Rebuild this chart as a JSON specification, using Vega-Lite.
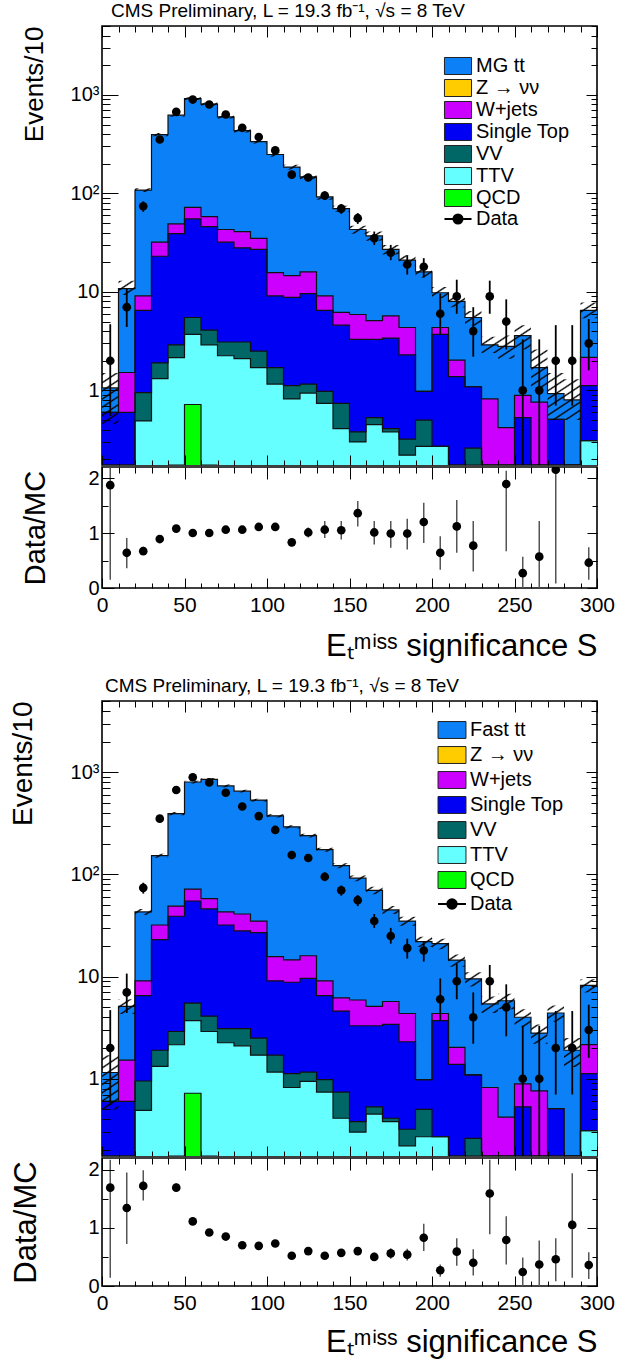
{
"$schema": "https://vega.github.io/schema/vega-lite/v6.json",
"background": "white",
"padding": {"left": 8, "top": 1, "right": 2, "bottom": 2},
"config": {"font": "Liberation Sans", "view": {"stroke": "black", "strokeWidth": 1.6}, "axis": {"labelColor": "black", "titleColor": "black", "titleFontWeight": "normal"}},
"datasets": {
"lower": [
{"p":"W+jets","a":0,"b":10,"v":0.6},{"p":"W+jets","a":10,"b":20,"v":1.52},{"p":"W+jets","a":20,"b":30,"v":9.1},{"p":"W+jets","a":30,"b":40,"v":32},{"p":"W+jets","a":40,"b":50,"v":49},{"p":"W+jets","a":50,"b":60,"v":72},{"p":"W+jets","a":60,"b":70,"v":58},{"p":"W+jets","a":70,"b":80,"v":43},{"p":"W+jets","a":80,"b":90,"v":41},{"p":"W+jets","a":90,"b":100,"v":35},{"p":"W+jets","a":100,"b":110,"v":15.7},{"p":"W+jets","a":110,"b":120,"v":14.6},{"p":"W+jets","a":120,"b":130,"v":16},{"p":"W+jets","a":130,"b":140,"v":9.1},{"p":"W+jets","a":140,"b":150,"v":6.2},{"p":"W+jets","a":150,"b":160,"v":5.9},{"p":"W+jets","a":160,"b":170,"v":5.1},{"p":"W+jets","a":170,"b":180,"v":5.7},{"p":"W+jets","a":180,"b":190,"v":4.35},{"p":"W+jets","a":190,"b":200,"v":0.98},{"p":"W+jets","a":200,"b":210,"v":4.35},{"p":"W+jets","a":210,"b":220,"v":2.03},{"p":"W+jets","a":220,"b":230,"v":1.09},{"p":"W+jets","a":230,"b":240,"v":0.82},{"p":"W+jets","a":240,"b":250,"v":0.42},{"p":"W+jets","a":250,"b":260,"v":0.89},{"p":"W+jets","a":260,"b":270,"v":0.76},{"p":"W+jets","a":270,"b":280,"v":0.51},{"p":"W+jets","a":280,"b":290,"v":0},{"p":"W+jets","a":290,"b":300,"v":2.16},
{"p":"Single Top","a":0,"b":10,"v":0.6},{"p":"Single Top","a":10,"b":20,"v":0.6},{"p":"Single Top","a":20,"b":30,"v":6.5},{"p":"Single Top","a":30,"b":40,"v":23},{"p":"Single Top","a":40,"b":50,"v":39},{"p":"Single Top","a":50,"b":60,"v":55},{"p":"Single Top","a":60,"b":70,"v":46},{"p":"Single Top","a":70,"b":80,"v":32},{"p":"Single Top","a":80,"b":90,"v":28},{"p":"Single Top","a":90,"b":100,"v":27},{"p":"Single Top","a":100,"b":110,"v":9.1},{"p":"Single Top","a":110,"b":120,"v":8.8},{"p":"Single Top","a":120,"b":130,"v":9.6},{"p":"Single Top","a":130,"b":140,"v":6.5},{"p":"Single Top","a":140,"b":150,"v":4.6},{"p":"Single Top","a":150,"b":160,"v":3.3},{"p":"Single Top","a":160,"b":170,"v":3.3},{"p":"Single Top","a":170,"b":180,"v":3.4},{"p":"Single Top","a":180,"b":190,"v":2.3},{"p":"Single Top","a":190,"b":200,"v":0.98},{"p":"Single Top","a":200,"b":210,"v":3.7},{"p":"Single Top","a":210,"b":220,"v":1.38},{"p":"Single Top","a":220,"b":230,"v":1.09},{"p":"Single Top","a":230,"b":240,"v":0},{"p":"Single Top","a":240,"b":250,"v":0},{"p":"Single Top","a":250,"b":260,"v":0.53},{"p":"Single Top","a":260,"b":270,"v":0},{"p":"Single Top","a":270,"b":280,"v":0.51},{"p":"Single Top","a":280,"b":290,"v":0},{"p":"Single Top","a":290,"b":300,"v":1.12},
{"p":"VV","a":0,"b":10,"v":0},{"p":"VV","a":10,"b":20,"v":0},{"p":"VV","a":20,"b":30,"v":0.95},{"p":"VV","a":30,"b":40,"v":1.9},{"p":"VV","a":40,"b":50,"v":2.9},{"p":"VV","a":50,"b":60,"v":5.5},{"p":"VV","a":60,"b":70,"v":4.1},{"p":"VV","a":70,"b":80,"v":3.1},{"p":"VV","a":80,"b":90,"v":3.1},{"p":"VV","a":90,"b":100,"v":2.5},{"p":"VV","a":100,"b":110,"v":1.7},{"p":"VV","a":110,"b":120,"v":1.12},{"p":"VV","a":120,"b":130,"v":1.16},{"p":"VV","a":130,"b":140,"v":0.98},{"p":"VV","a":140,"b":150,"v":0.74},{"p":"VV","a":150,"b":160,"v":0.38},{"p":"VV","a":160,"b":170,"v":0.53},{"p":"VV","a":170,"b":180,"v":0.41},{"p":"VV","a":180,"b":190,"v":0.32},{"p":"VV","a":190,"b":200,"v":0.5},{"p":"VV","a":200,"b":210,"v":0.27},{"p":"VV","a":210,"b":220,"v":0},{"p":"VV","a":220,"b":230,"v":0.26},{"p":"VV","a":230,"b":240,"v":0},{"p":"VV","a":240,"b":250,"v":0},{"p":"VV","a":250,"b":260,"v":0},{"p":"VV","a":260,"b":270,"v":0},{"p":"VV","a":270,"b":280,"v":0},{"p":"VV","a":280,"b":290,"v":0},{"p":"VV","a":290,"b":300,"v":0.31},
{"p":"TTV","a":0,"b":10,"v":0},{"p":"TTV","a":10,"b":20,"v":0},{"p":"TTV","a":20,"b":30,"v":0.49},{"p":"TTV","a":30,"b":40,"v":1.32},{"p":"TTV","a":40,"b":50,"v":2.15},{"p":"TTV","a":50,"b":60,"v":3.7},{"p":"TTV","a":60,"b":70,"v":2.9},{"p":"TTV","a":70,"b":80,"v":2.25},{"p":"TTV","a":80,"b":90,"v":2.1},{"p":"TTV","a":90,"b":100,"v":1.7},{"p":"TTV","a":100,"b":110,"v":1.16},{"p":"TTV","a":110,"b":120,"v":0.82},{"p":"TTV","a":120,"b":130,"v":0.94},{"p":"TTV","a":130,"b":140,"v":0.74},{"p":"TTV","a":140,"b":150,"v":0.41},{"p":"TTV","a":150,"b":160,"v":0.3},{"p":"TTV","a":160,"b":170,"v":0.45},{"p":"TTV","a":170,"b":180,"v":0.38},{"p":"TTV","a":180,"b":190,"v":0.22},{"p":"TTV","a":190,"b":200,"v":0.27},{"p":"TTV","a":200,"b":210,"v":0.27},{"p":"TTV","a":210,"b":220,"v":0},{"p":"TTV","a":220,"b":230,"v":0},{"p":"TTV","a":230,"b":240,"v":0},{"p":"TTV","a":240,"b":250,"v":0},{"p":"TTV","a":250,"b":260,"v":0},{"p":"TTV","a":260,"b":270,"v":0},{"p":"TTV","a":270,"b":280,"v":0},{"p":"TTV","a":280,"b":290,"v":0},{"p":"TTV","a":290,"b":300,"v":0.31},
{"p":"QCD","a":40,"b":50,"v":0},{"p":"QCD","a":50,"b":60,"v":0.72},{"p":"QCD","a":60,"b":70,"v":0}
],
"ttA": [
{"a":0,"b":10,"v":1.06},{"a":10,"b":20,"v":10.8},{"a":20,"b":30,"v":108},{"a":30,"b":40,"v":395},{"a":40,"b":50,"v":622},{"a":50,"b":60,"v":915},{"a":60,"b":70,"v":805},{"a":70,"b":80,"v":597},{"a":80,"b":90,"v":433},{"a":90,"b":100,"v":335},{"a":100,"b":110,"v":248},{"a":110,"b":120,"v":185},{"a":120,"b":130,"v":147},{"a":130,"b":140,"v":92},{"a":140,"b":150,"v":70},{"a":150,"b":160,"v":43},{"a":160,"b":170,"v":37},{"a":170,"b":180,"v":27},{"a":180,"b":190,"v":21},{"a":190,"b":200,"v":16},{"a":200,"b":210,"v":9.8},{"a":210,"b":220,"v":8},{"a":220,"b":230,"v":5.5},{"a":230,"b":240,"v":2.9},{"a":240,"b":250,"v":2.8},{"a":250,"b":260,"v":3.6},{"a":260,"b":270,"v":1.7},{"a":270,"b":280,"v":0.93},{"a":280,"b":290,"v":0.8},{"a":290,"b":300,"v":6.5}
],
"bandA": [
{"a":0,"b":10,"lo":0.46,"hi":1.5},{"a":10,"b":20,"lo":9.3,"hi":13},{"a":20,"b":30,"lo":103,"hi":113},{"a":30,"b":40,"lo":380,"hi":410},{"a":40,"b":50,"lo":600,"hi":645},{"a":50,"b":60,"lo":885,"hi":945},{"a":60,"b":70,"lo":775,"hi":835},{"a":70,"b":80,"lo":575,"hi":620},{"a":80,"b":90,"lo":415,"hi":450},{"a":90,"b":100,"lo":320,"hi":350},{"a":100,"b":110,"lo":236,"hi":260},{"a":110,"b":120,"lo":175,"hi":195},{"a":120,"b":130,"lo":139,"hi":155},{"a":130,"b":140,"lo":86,"hi":98},{"a":140,"b":150,"lo":65,"hi":75},{"a":150,"b":160,"lo":39,"hi":47},{"a":160,"b":170,"lo":33,"hi":41},{"a":170,"b":180,"lo":24,"hi":30},{"a":180,"b":190,"lo":18.5,"hi":23.5},{"a":190,"b":200,"lo":14,"hi":18},{"a":200,"b":210,"lo":8.6,"hi":11.2},{"a":210,"b":220,"lo":7,"hi":9.1},{"a":220,"b":230,"lo":4.5,"hi":6.4},{"a":230,"b":240,"lo":2.4,"hi":3.5},{"a":240,"b":250,"lo":2.1,"hi":3.6},{"a":250,"b":260,"lo":2.6,"hi":4.6},{"a":260,"b":270,"lo":1.0,"hi":2.6},{"a":270,"b":280,"lo":0.5,"hi":1.5},{"a":280,"b":290,"lo":0.5,"hi":1.3},{"a":290,"b":300,"lo":5.4,"hi":7.8}
],
"ttB": [
{"a":0,"b":10,"v":1.15},{"a":10,"b":20,"v":5.1},{"a":20,"b":30,"v":43},{"a":30,"b":40,"v":153},{"a":40,"b":50,"v":395},{"a":50,"b":60,"v":805},{"a":60,"b":70,"v":855},{"a":70,"b":80,"v":737},{"a":80,"b":90,"v":655},{"a":90,"b":100,"v":535},{"a":100,"b":110,"v":375},{"a":110,"b":120,"v":293},{"a":120,"b":130,"v":240},{"a":130,"b":140,"v":175},{"a":140,"b":150,"v":122},{"a":150,"b":160,"v":92},{"a":160,"b":170,"v":70},{"a":170,"b":180,"v":45},{"a":180,"b":190,"v":35},{"a":190,"b":200,"v":22},{"a":200,"b":210,"v":21},{"a":210,"b":220,"v":14.5},{"a":220,"b":230,"v":9.5},{"a":230,"b":240,"v":5.4},{"a":240,"b":250,"v":5.8},{"a":250,"b":260,"v":4.0},{"a":260,"b":270,"v":2.8},{"a":270,"b":280,"v":4.4},{"a":280,"b":290,"v":1.9},{"a":290,"b":300,"v":8.2}
],
"bandB": [
{"a":0,"b":10,"lo":0.5,"hi":1.7},{"a":10,"b":20,"lo":4.3,"hi":6.0},{"a":20,"b":30,"lo":40,"hi":46},{"a":30,"b":40,"lo":146,"hi":160},{"a":40,"b":50,"lo":380,"hi":410},{"a":50,"b":60,"lo":780,"hi":830},{"a":60,"b":70,"lo":830,"hi":880},{"a":70,"b":80,"lo":715,"hi":760},{"a":80,"b":90,"lo":635,"hi":675},{"a":90,"b":100,"lo":518,"hi":552},{"a":100,"b":110,"lo":362,"hi":388},{"a":110,"b":120,"lo":282,"hi":304},{"a":120,"b":130,"lo":230,"hi":250},{"a":130,"b":140,"lo":167,"hi":183},{"a":140,"b":150,"lo":115,"hi":129},{"a":150,"b":160,"lo":86,"hi":98},{"a":160,"b":170,"lo":64,"hi":76},{"a":170,"b":180,"lo":41,"hi":49},{"a":180,"b":190,"lo":31.5,"hi":38.5},{"a":190,"b":200,"lo":19.5,"hi":24.5},{"a":200,"b":210,"lo":18.5,"hi":23.5},{"a":210,"b":220,"lo":12.5,"hi":16.5},{"a":220,"b":230,"lo":8,"hi":11},{"a":230,"b":240,"lo":4.4,"hi":6.4},{"a":240,"b":250,"lo":4.8,"hi":6.8},{"a":250,"b":260,"lo":3.2,"hi":4.8},{"a":260,"b":270,"lo":2.2,"hi":3.4},{"a":270,"b":280,"lo":3.6,"hi":5.2},{"a":280,"b":290,"lo":1.3,"hi":2.5},{"a":290,"b":300,"lo":7.0,"hi":9.4}
],
"obs": [
{"c":5,"n":2,"lo":0.55,"hi":4.7},{"c":15,"n":7,"lo":4.4,"hi":10.7},{"c":25,"n":74,"lo":65,"hi":83},{"c":35,"n":352,"lo":333,"hi":371},{"c":45,"n":672,"lo":646,"hi":698},{"c":55,"n":896,"lo":866,"hi":926},{"c":65,"n":798,"lo":770,"hi":826},{"c":75,"n":632,"lo":607,"hi":657},{"c":85,"n":463,"lo":442,"hi":484},{"c":95,"n":373,"lo":354,"hi":392},{"c":105,"n":273,"lo":257,"hi":289},{"c":115,"n":155,"lo":143,"hi":167},{"c":125,"n":145,"lo":133,"hi":157},{"c":135,"n":95,"lo":86,"hi":105},{"c":145,"n":70,"lo":62,"hi":78},{"c":155,"n":56,"lo":49,"hi":63},{"c":165,"n":35,"lo":30,"hi":41},{"c":175,"n":25,"lo":21,"hi":30},{"c":185,"n":19,"lo":15,"hi":23.5},{"c":195,"n":18,"lo":14,"hi":22},{"c":205,"n":6,"lo":3.7,"hi":9.6},{"c":215,"n":9,"lo":6,"hi":13.3},{"c":225,"n":4,"lo":2.2,"hi":7},{"c":235,"n":9,"lo":6,"hi":13},{"c":245,"n":5,"lo":2.6,"hi":8.4},{"c":255,"n":1,"lo":0.17,"hi":3.3},{"c":265,"n":1,"lo":0.17,"hi":3.3},{"c":275,"n":2,"lo":0.7,"hi":4.6},{"c":285,"n":2,"lo":0.7,"hi":4.6},{"c":295,"n":3,"lo":1.6,"hi":5.3}
],
"ratioA": [
{"c":5,"r":1.87,"lo":0.15,"hi":2.19},{"c":15,"r":0.64,"lo":0.36,"hi":0.91},{"c":25,"r":0.67,"lo":0.6,"hi":0.75},{"c":35,"r":0.89,"lo":0.85,"hi":0.93},{"c":45,"r":1.08,"lo":1.04,"hi":1.12},{"c":55,"r":1.0,"lo":0.97,"hi":1.03},{"c":65,"r":1.0,"lo":0.97,"hi":1.03},{"c":75,"r":1.06,"lo":1.02,"hi":1.1},{"c":85,"r":1.06,"lo":1.01,"hi":1.11},{"c":95,"r":1.11,"lo":1.05,"hi":1.17},{"c":105,"r":1.11,"lo":1.04,"hi":1.18},{"c":115,"r":0.83,"lo":0.76,"hi":0.9},{"c":125,"r":1.01,"lo":0.92,"hi":1.1},{"c":135,"r":1.06,"lo":0.91,"hi":1.22},{"c":145,"r":1.05,"lo":0.88,"hi":1.22},{"c":155,"r":1.36,"lo":1.12,"hi":1.58},{"c":165,"r":1.01,"lo":0.79,"hi":1.22},{"c":175,"r":0.99,"lo":0.73,"hi":1.22},{"c":185,"r":0.99,"lo":0.7,"hi":1.26},{"c":195,"r":1.2,"lo":0.82,"hi":1.55},{"c":205,"r":0.64,"lo":0.33,"hi":0.94},{"c":215,"r":1.12,"lo":0.64,"hi":1.6},{"c":225,"r":0.77,"lo":0.3,"hi":1.22},{"c":245,"r":1.89,"lo":0.67,"hi":2.13},{"c":255,"r":0.27,"lo":0,"hi":0.57},{"c":265,"r":0.57,"lo":0,"hi":1.22},{"c":275,"r":2.15,"lo":0.08,"hi":2.3},{"c":295,"r":0.46,"lo":0.15,"hi":0.74}
],
"ratioB": [
{"c":5,"r":1.69,"lo":0.14,"hi":2.17},{"c":15,"r":1.34,"lo":0.72,"hi":1.95},{"c":25,"r":1.72,"lo":1.47,"hi":1.99},{"c":45,"r":1.69,"lo":1.62,"hi":1.76},{"c":55,"r":1.11,"lo":1.07,"hi":1.15},{"c":65,"r":0.92,"lo":0.89,"hi":0.95},{"c":75,"r":0.85,"lo":0.82,"hi":0.88},{"c":85,"r":0.7,"lo":0.67,"hi":0.73},{"c":95,"r":0.69,"lo":0.66,"hi":0.72},{"c":105,"r":0.73,"lo":0.69,"hi":0.77},{"c":115,"r":0.52,"lo":0.48,"hi":0.56},{"c":125,"r":0.6,"lo":0.55,"hi":0.65},{"c":135,"r":0.52,"lo":0.47,"hi":0.57},{"c":145,"r":0.57,"lo":0.51,"hi":0.63},{"c":155,"r":0.6,"lo":0.53,"hi":0.67},{"c":165,"r":0.5,"lo":0.43,"hi":0.57},{"c":175,"r":0.56,"lo":0.47,"hi":0.65},{"c":185,"r":0.54,"lo":0.44,"hi":0.64},{"c":195,"r":0.83,"lo":0.6,"hi":1.07},{"c":205,"r":0.27,"lo":0.16,"hi":0.37},{"c":215,"r":0.59,"lo":0.35,"hi":0.82},{"c":225,"r":0.4,"lo":0.18,"hi":0.63},{"c":235,"r":1.59,"lo":0.89,"hi":2.17},{"c":245,"r":0.79,"lo":0.37,"hi":1.2},{"c":255,"r":0.24,"lo":0,"hi":0.49},{"c":265,"r":0.37,"lo":0,"hi":0.78},{"c":275,"r":0.46,"lo":0.08,"hi":0.82},{"c":285,"r":1.05,"lo":0.14,"hi":1.94},{"c":295,"r":0.36,"lo":0.12,"hi":0.58}
]
},
"resolve": {"scale": {"color": "independent"}, "legend": {"color": "independent"}},
"spacing": 14,
"vconcat": [
{
"spacing": 0,
"resolve": {"scale": {"x": "independent", "y": "independent"}},
"vconcat": [
{
"width": 495, "height": 439,
"title": {"text": "CMS Preliminary, L = 19.3 fb⁻¹, √s = 8 TeV", "anchor": "start", "frame": "group", "fontSize": 19, "fontWeight": "normal", "offset": 4, "dx": 9, "color": "black"},
"resolve": {"axis": {"x": "independent", "y": "independent"}},
"layer": [
{"data": {"name": "ttA"}, "transform": [{"fold": ["a","b"], "as": ["e","xe"]}],
 "mark": {"type": "area", "opacity": 1, "clip": true},
 "encoding": {
  "x": {"field": "xe", "type": "quantitative", "scale": {"domain": [0,300], "nice": false, "zero": false},
        "axis": {"orient": "bottom", "values": [0,10,20,30,40,50,60,70,80,90,100,110,120,130,140,150,160,170,180,190,200,210,220,230,240,250,260,270,280,290,300], "labels": false, "ticks": false, "domain": false, "title": null, "grid": true, "gridColor": "black", "gridOpacity": 1, "gridWidth": 1, "gridDash": {"condition": {"test": "datum.value % 50 === 0", "value": [11, 3000]}, "value": [6, 3000]}, "zindex": 1}},
  "y": {"field": "v", "type": "quantitative", "stack": null, "scale": {"type": "log", "domain": [0.175, 5000], "clamp": true, "nice": false},
        "axis": {"orient": "left", "values": [0.2,0.3,0.4,0.5,0.6,0.7,0.8,0.9,1,2,3,4,5,6,7,8,9,10,20,30,40,50,60,70,80,90,100,200,300,400,500,600,700,800,900,1000,2000,3000,4000,5000], "labelExpr": "datum.value === 1 ? '1' : datum.value === 10 ? '10' : datum.value === 100 ? '10²' : datum.value === 1000 ? '10³' : ''", "labelFontSize": {"condition": {"test": "datum.value === 1 || datum.value === 10 || datum.value === 100 || datum.value === 1000", "value": 20}, "value": 1}, "labelPadding": 3, "labelOverlap": false, "labelFlush": false, "minExtent": 30, "maxExtent": 30, "ticks": false, "domain": false, "grid": true, "gridColor": "black", "gridOpacity": 1, "gridWidth": 1, "gridDash": {"condition": {"test": "abs(log(datum.value)/LN10 - round(log(datum.value)/LN10)) < 0.001", "value": [16, 3000]}, "value": [8, 3000]}, "title": "Events/10", "titleFontSize": 26, "titleAnchor": "end", "titlePadding": 25, "zindex": 1}},
  "y2": {"datum": 0.175},
  "order": [{"field": "xe", "type": "quantitative"}, {"field": "e", "type": "nominal", "sort": "descending"}],
  "color": {"datum": "MG tt", "type": "nominal",
    "scale": {"domain": ["MG tt", "Z → νν", "W+jets", "Single Top", "VV", "TTV", "QCD", "Data"], "range": ["#0c80f6", "#ffcc00", "#cc00ff", "#0000f5", "#006666", "#66ffff", "#00ff00", "black"]},
    "legend": {"orient": "none", "legendX": 346, "legendY": 30, "title": null, "symbolType": "M-1.29,-0.81L1.29,-0.81L1.29,0.81L-1.29,0.81Z", "symbolSize": 441, "symbolStrokeColor": "#222", "symbolStrokeWidth": 1, "symbolOpacity": 1, "labelFontSize": 20, "labelColor": "black", "labelOffset": 8, "rowPadding": 0, "labelLimit": 300,
      "encode": {"symbols": {"update": {"shape": {"signal": "datum.value === 'Data' ? 'M-1.29,0L1.29,0M-0.43,0A0.43,0.43,0,1,0,0.43,0A0.43,0.43,0,1,0,-0.43,0Z' : 'M-1.29,-0.81L1.29,-0.81L1.29,0.81L-1.29,0.81Z'"}, "stroke": {"signal": "datum.value === 'Data' ? 'black' : '#222'"}, "strokeWidth": {"signal": "datum.value === 'Data' ? 2 : 1"}}}}}}
 }},
{"data": {"name": "lower"}, "transform": [{"filter": "datum.p === 'W+jets'"}, {"fold": ["a","b"], "as": ["e","xe"]}],
 "mark": {"type": "area", "opacity": 1, "clip": true},
 "encoding": {
  "x": {"field": "xe", "type": "quantitative", "axis": {"orient": "top", "values": [0,10,20,30,40,50,60,70,80,90,100,110,120,130,140,150,160,170,180,190,200,210,220,230,240,250,260,270,280,290,300], "labels": false, "ticks": false, "domain": false, "title": null, "grid": true, "gridColor": "black", "gridOpacity": 1, "gridWidth": 1, "gridDash": {"condition": {"test": "datum.value % 50 === 0", "value": [10, 3000]}, "value": [5, 3000]}, "zindex": 1}},
  "y": {"field": "v", "type": "quantitative", "stack": null, "axis": {"orient": "right", "values": [0.2,0.3,0.4,0.5,0.6,0.7,0.8,0.9,1,2,3,4,5,6,7,8,9,10,20,30,40,50,60,70,80,90,100,200,300,400,500,600,700,800,900,1000,2000,3000,4000,5000], "labels": false, "ticks": false, "domain": false, "title": null, "grid": true, "gridColor": "black", "gridOpacity": 1, "gridWidth": 1, "gridDash": {"condition": {"test": "abs(log(datum.value)/LN10 - round(log(datum.value)/LN10)) < 0.001", "value": [11, 3000]}, "value": [6, 3000]}, "zindex": 1}},
  "y2": {"datum": 0.175},
  "order": [{"field": "xe", "type": "quantitative"}, {"field": "e", "type": "nominal", "sort": "descending"}],
  "color": {"datum": "W+jets", "type": "nominal"}
 }},
{"data": {"name": "lower"}, "transform": [{"filter": "datum.p === 'Single Top'"}, {"fold": ["a","b"], "as": ["e","xe"]}],
 "mark": {"type": "area", "opacity": 1, "clip": true},
 "encoding": {"x": {"field": "xe", "type": "quantitative", "axis": null}, "y": {"field": "v", "type": "quantitative", "stack": null, "axis": null}, "y2": {"datum": 0.175},
  "order": [{"field": "xe", "type": "quantitative"}, {"field": "e", "type": "nominal", "sort": "descending"}], "color": {"datum": "Single Top", "type": "nominal"}}},
{"data": {"name": "lower"}, "transform": [{"filter": "datum.p === 'VV'"}, {"fold": ["a","b"], "as": ["e","xe"]}],
 "mark": {"type": "area", "opacity": 1, "clip": true},
 "encoding": {"x": {"field": "xe", "type": "quantitative", "axis": null}, "y": {"field": "v", "type": "quantitative", "stack": null, "axis": null}, "y2": {"datum": 0.175},
  "order": [{"field": "xe", "type": "quantitative"}, {"field": "e", "type": "nominal", "sort": "descending"}], "color": {"datum": "VV", "type": "nominal"}}},
{"data": {"name": "lower"}, "transform": [{"filter": "datum.p === 'TTV'"}, {"fold": ["a","b"], "as": ["e","xe"]}],
 "mark": {"type": "area", "opacity": 1, "clip": true},
 "encoding": {"x": {"field": "xe", "type": "quantitative", "axis": null}, "y": {"field": "v", "type": "quantitative", "stack": null, "axis": null}, "y2": {"datum": 0.175},
  "order": [{"field": "xe", "type": "quantitative"}, {"field": "e", "type": "nominal", "sort": "descending"}], "color": {"datum": "TTV", "type": "nominal"}}},
{"data": {"name": "lower"}, "transform": [{"filter": "datum.p === 'QCD'"}, {"fold": ["a","b"], "as": ["e","xe"]}],
 "mark": {"type": "area", "opacity": 1, "clip": true},
 "encoding": {"x": {"field": "xe", "type": "quantitative", "axis": null}, "y": {"field": "v", "type": "quantitative", "stack": null, "axis": null}, "y2": {"datum": 0.175},
  "order": [{"field": "xe", "type": "quantitative"}, {"field": "e", "type": "nominal", "sort": "descending"}], "color": {"datum": "QCD", "type": "nominal"}}},
{"data": {"name": "lower"}, "transform": [{"fold": ["a","b"], "as": ["e","xe"]}],
 "mark": {"type": "line", "color": "#111", "strokeWidth": 1.2, "clip": true},
 "encoding": {"x": {"field": "xe", "type": "quantitative", "axis": null}, "y": {"field": "v", "type": "quantitative", "axis": null}, "detail": {"field": "p"},
  "order": [{"field": "xe", "type": "quantitative"}, {"field": "e", "type": "nominal", "sort": "descending"}]}},
{"data": {"name": "ttA"}, "transform": [{"fold": ["a","b"], "as": ["e","xe"]}],
 "mark": {"type": "line", "color": "#111", "strokeWidth": 1.2, "clip": true},
 "encoding": {"x": {"field": "xe", "type": "quantitative", "axis": null}, "y": {"field": "v", "type": "quantitative", "axis": null},
  "order": [{"field": "xe", "type": "quantitative"}, {"field": "e", "type": "nominal", "sort": "descending"}]}},
{"data": {"name": "bandA"}, "transform": [{"fold": ["a","b"], "as": ["e","xe"]}],
 "mark": {"type": "area", "opacity": 1, "strokeWidth": 0, "clip": true, "fill": {"gradient": "linear", "x1": 0, "y1": 0, "x2": 1, "y2": 1, "stops": [
{"offset":0,"color":"black"},{"offset":0.0025,"color":"transparent"},
{"offset":0.01,"color":"transparent"},{"offset":0.0125,"color":"black"},{"offset":0.015,"color":"transparent"},
{"offset":0.0225,"color":"transparent"},{"offset":0.025,"color":"black"},{"offset":0.0275,"color":"transparent"},
{"offset":0.035,"color":"transparent"},{"offset":0.0375,"color":"black"},{"offset":0.04,"color":"transparent"},
{"offset":0.0475,"color":"transparent"},{"offset":0.05,"color":"black"},{"offset":0.0525,"color":"transparent"},
{"offset":0.06,"color":"transparent"},{"offset":0.0625,"color":"black"},{"offset":0.065,"color":"transparent"},
{"offset":0.0725,"color":"transparent"},{"offset":0.075,"color":"black"},{"offset":0.0775,"color":"transparent"},
{"offset":0.085,"color":"transparent"},{"offset":0.0875,"color":"black"},{"offset":0.09,"color":"transparent"},
{"offset":0.0975,"color":"transparent"},{"offset":0.1,"color":"black"},{"offset":0.1025,"color":"transparent"},
{"offset":0.11,"color":"transparent"},{"offset":0.1125,"color":"black"},{"offset":0.115,"color":"transparent"},
{"offset":0.1225,"color":"transparent"},{"offset":0.125,"color":"black"},{"offset":0.1275,"color":"transparent"},
{"offset":0.135,"color":"transparent"},{"offset":0.1375,"color":"black"},{"offset":0.14,"color":"transparent"},
{"offset":0.1475,"color":"transparent"},{"offset":0.15,"color":"black"},{"offset":0.1525,"color":"transparent"},
{"offset":0.16,"color":"transparent"},{"offset":0.1625,"color":"black"},{"offset":0.165,"color":"transparent"},
{"offset":0.1725,"color":"transparent"},{"offset":0.175,"color":"black"},{"offset":0.1775,"color":"transparent"},
{"offset":0.185,"color":"transparent"},{"offset":0.1875,"color":"black"},{"offset":0.19,"color":"transparent"},
{"offset":0.1975,"color":"transparent"},{"offset":0.2,"color":"black"},{"offset":0.2025,"color":"transparent"},
{"offset":0.21,"color":"transparent"},{"offset":0.2125,"color":"black"},{"offset":0.215,"color":"transparent"},
{"offset":0.2225,"color":"transparent"},{"offset":0.225,"color":"black"},{"offset":0.2275,"color":"transparent"},
{"offset":0.235,"color":"transparent"},{"offset":0.2375,"color":"black"},{"offset":0.24,"color":"transparent"},
{"offset":0.2475,"color":"transparent"},{"offset":0.25,"color":"black"},{"offset":0.2525,"color":"transparent"},
{"offset":0.26,"color":"transparent"},{"offset":0.2625,"color":"black"},{"offset":0.265,"color":"transparent"},
{"offset":0.2725,"color":"transparent"},{"offset":0.275,"color":"black"},{"offset":0.2775,"color":"transparent"},
{"offset":0.285,"color":"transparent"},{"offset":0.2875,"color":"black"},{"offset":0.29,"color":"transparent"},
{"offset":0.2975,"color":"transparent"},{"offset":0.3,"color":"black"},{"offset":0.3025,"color":"transparent"},
{"offset":0.31,"color":"transparent"},{"offset":0.3125,"color":"black"},{"offset":0.315,"color":"transparent"},
{"offset":0.3225,"color":"transparent"},{"offset":0.325,"color":"black"},{"offset":0.3275,"color":"transparent"},
{"offset":0.335,"color":"transparent"},{"offset":0.3375,"color":"black"},{"offset":0.34,"color":"transparent"},
{"offset":0.3475,"color":"transparent"},{"offset":0.35,"color":"black"},{"offset":0.3525,"color":"transparent"},
{"offset":0.36,"color":"transparent"},{"offset":0.3625,"color":"black"},{"offset":0.365,"color":"transparent"},
{"offset":0.3725,"color":"transparent"},{"offset":0.375,"color":"black"},{"offset":0.3775,"color":"transparent"},
{"offset":0.385,"color":"transparent"},{"offset":0.3875,"color":"black"},{"offset":0.39,"color":"transparent"},
{"offset":0.3975,"color":"transparent"},{"offset":0.4,"color":"black"},{"offset":0.4025,"color":"transparent"},
{"offset":0.41,"color":"transparent"},{"offset":0.4125,"color":"black"},{"offset":0.415,"color":"transparent"},
{"offset":0.4225,"color":"transparent"},{"offset":0.425,"color":"black"},{"offset":0.4275,"color":"transparent"},
{"offset":0.435,"color":"transparent"},{"offset":0.4375,"color":"black"},{"offset":0.44,"color":"transparent"},
{"offset":0.4475,"color":"transparent"},{"offset":0.45,"color":"black"},{"offset":0.4525,"color":"transparent"},
{"offset":0.46,"color":"transparent"},{"offset":0.4625,"color":"black"},{"offset":0.465,"color":"transparent"},
{"offset":0.4725,"color":"transparent"},{"offset":0.475,"color":"black"},{"offset":0.4775,"color":"transparent"},
{"offset":0.485,"color":"transparent"},{"offset":0.4875,"color":"black"},{"offset":0.49,"color":"transparent"},
{"offset":0.4975,"color":"transparent"},{"offset":0.5,"color":"black"},{"offset":0.5025,"color":"transparent"},
{"offset":0.51,"color":"transparent"},{"offset":0.5125,"color":"black"},{"offset":0.515,"color":"transparent"},
{"offset":0.5225,"color":"transparent"},{"offset":0.525,"color":"black"},{"offset":0.5275,"color":"transparent"},
{"offset":0.535,"color":"transparent"},{"offset":0.5375,"color":"black"},{"offset":0.54,"color":"transparent"},
{"offset":0.5475,"color":"transparent"},{"offset":0.55,"color":"black"},{"offset":0.5525,"color":"transparent"},
{"offset":0.56,"color":"transparent"},{"offset":0.5625,"color":"black"},{"offset":0.565,"color":"transparent"},
{"offset":0.5725,"color":"transparent"},{"offset":0.575,"color":"black"},{"offset":0.5775,"color":"transparent"},
{"offset":0.585,"color":"transparent"},{"offset":0.5875,"color":"black"},{"offset":0.59,"color":"transparent"},
{"offset":0.5975,"color":"transparent"},{"offset":0.6,"color":"black"},{"offset":0.6025,"color":"transparent"},
{"offset":0.61,"color":"transparent"},{"offset":0.6125,"color":"black"},{"offset":0.615,"color":"transparent"},
{"offset":0.6225,"color":"transparent"},{"offset":0.625,"color":"black"},{"offset":0.6275,"color":"transparent"},
{"offset":0.635,"color":"transparent"},{"offset":0.6375,"color":"black"},{"offset":0.64,"color":"transparent"},
{"offset":0.6475,"color":"transparent"},{"offset":0.65,"color":"black"},{"offset":0.6525,"color":"transparent"},
{"offset":0.66,"color":"transparent"},{"offset":0.6625,"color":"black"},{"offset":0.665,"color":"transparent"},
{"offset":0.6725,"color":"transparent"},{"offset":0.675,"color":"black"},{"offset":0.6775,"color":"transparent"},
{"offset":0.685,"color":"transparent"},{"offset":0.6875,"color":"black"},{"offset":0.69,"color":"transparent"},
{"offset":0.6975,"color":"transparent"},{"offset":0.7,"color":"black"},{"offset":0.7025,"color":"transparent"},
{"offset":0.71,"color":"transparent"},{"offset":0.7125,"color":"black"},{"offset":0.715,"color":"transparent"},
{"offset":0.7225,"color":"transparent"},{"offset":0.725,"color":"black"},{"offset":0.7275,"color":"transparent"},
{"offset":0.735,"color":"transparent"},{"offset":0.7375,"color":"black"},{"offset":0.74,"color":"transparent"},
{"offset":0.7475,"color":"transparent"},{"offset":0.75,"color":"black"},{"offset":0.7525,"color":"transparent"},
{"offset":0.76,"color":"transparent"},{"offset":0.7625,"color":"black"},{"offset":0.765,"color":"transparent"},
{"offset":0.7725,"color":"transparent"},{"offset":0.775,"color":"black"},{"offset":0.7775,"color":"transparent"},
{"offset":0.785,"color":"transparent"},{"offset":0.7875,"color":"black"},{"offset":0.79,"color":"transparent"},
{"offset":0.7975,"color":"transparent"},{"offset":0.8,"color":"black"},{"offset":0.8025,"color":"transparent"},
{"offset":0.81,"color":"transparent"},{"offset":0.8125,"color":"black"},{"offset":0.815,"color":"transparent"},
{"offset":0.8225,"color":"transparent"},{"offset":0.825,"color":"black"},{"offset":0.8275,"color":"transparent"},
{"offset":0.835,"color":"transparent"},{"offset":0.8375,"color":"black"},{"offset":0.84,"color":"transparent"},
{"offset":0.8475,"color":"transparent"},{"offset":0.85,"color":"black"},{"offset":0.8525,"color":"transparent"},
{"offset":0.86,"color":"transparent"},{"offset":0.8625,"color":"black"},{"offset":0.865,"color":"transparent"},
{"offset":0.8725,"color":"transparent"},{"offset":0.875,"color":"black"},{"offset":0.8775,"color":"transparent"},
{"offset":0.885,"color":"transparent"},{"offset":0.8875,"color":"black"},{"offset":0.89,"color":"transparent"},
{"offset":0.8975,"color":"transparent"},{"offset":0.9,"color":"black"},{"offset":0.9025,"color":"transparent"},
{"offset":0.91,"color":"transparent"},{"offset":0.9125,"color":"black"},{"offset":0.915,"color":"transparent"},
{"offset":0.9225,"color":"transparent"},{"offset":0.925,"color":"black"},{"offset":0.9275,"color":"transparent"},
{"offset":0.935,"color":"transparent"},{"offset":0.9375,"color":"black"},{"offset":0.94,"color":"transparent"},
{"offset":0.9475,"color":"transparent"},{"offset":0.95,"color":"black"},{"offset":0.9525,"color":"transparent"},
{"offset":0.96,"color":"transparent"},{"offset":0.9625,"color":"black"},{"offset":0.965,"color":"transparent"},
{"offset":0.9725,"color":"transparent"},{"offset":0.975,"color":"black"},{"offset":0.9775,"color":"transparent"},
{"offset":0.985,"color":"transparent"},{"offset":0.9875,"color":"black"},{"offset":0.99,"color":"transparent"},
{"offset":0.9975,"color":"transparent"},{"offset":1,"color":"black"}
]}},
 "encoding": {"x": {"field": "xe", "type": "quantitative", "axis": null}, "y": {"field": "lo", "type": "quantitative", "stack": null, "axis": null}, "y2": {"field": "hi"},
  "order": [{"field": "xe", "type": "quantitative"}, {"field": "e", "type": "nominal", "sort": "descending"}]}},
{"data": {"name": "obs"},
 "mark": {"type": "rule", "color": "black", "strokeWidth": 1.8, "clip": true},
 "encoding": {"x": {"field": "c", "type": "quantitative", "axis": null}, "y": {"field": "lo", "type": "quantitative", "axis": null}, "y2": {"field": "hi"}}},
{"data": {"name": "obs"},
 "mark": {"type": "point", "filled": true, "size": 75, "opacity": 1, "clip": true},
 "encoding": {"x": {"field": "c", "type": "quantitative", "axis": null}, "y": {"field": "n", "type": "quantitative", "axis": null}, "color": {"datum": "Data", "type": "nominal"}}}
]
},
{
"width": 495, "height": 121,
"resolve": {"axis": {"x": "independent", "y": "independent"}},
"layer": [
{"mark": {"type": "rule", "color": "#555", "strokeWidth": 1.5},
 "encoding": {"y": {"datum": 1, "type": "quantitative", "scale": {"domain": [0, 2.2], "nice": false, "zero": false}, "axis": null}}},
{"data": {"name": "ratioA"},
 "mark": {"type": "rule", "color": "#555", "strokeWidth": 1.5, "clip": true},
 "encoding": {
  "x": {"field": "c", "type": "quantitative", "scale": {"domain": [0,300], "nice": false, "zero": false},
        "axis": {"orient": "bottom", "values": [0,10,20,30,40,50,60,70,80,90,100,110,120,130,140,150,160,170,180,190,200,210,220,230,240,250,260,270,280,290,300], "labelExpr": "datum.value % 50 === 0 ? datum.label : ''", "labelFontSize": 21, "labelPadding": 6, "labelOverlap": false, "labelFlush": false, "ticks": false, "domain": false, "grid": true, "gridColor": "black", "gridOpacity": 1, "gridWidth": 1, "gridDash": {"condition": {"test": "datum.value % 50 === 0", "value": [12, 3000]}, "value": [6, 3000]}, "title": "Eₜᵐⁱˢˢ significance S", "titleFontSize": 31, "titleAnchor": "end", "titlePadding": 16, "zindex": 1}},
  "y": {"field": "lo", "type": "quantitative",
        "axis": {"orient": "left", "values": [0, 0.5, 1, 1.5, 2], "labelExpr": "datum.value % 1 === 0 ? toString(datum.value) : ''", "labelFontSize": 20, "labelPadding": 3, "labelOverlap": false, "labelFlush": false, "minExtent": 30, "maxExtent": 30, "ticks": false, "domain": false, "grid": true, "gridColor": "black", "gridOpacity": 1, "gridWidth": 1, "gridDash": {"condition": {"test": "datum.value % 1 === 0", "value": [12, 3000]}, "value": [6, 3000]}, "title": "Data/MC", "titleFontSize": 29, "titlePadding": 22, "zindex": 1}},
  "y2": {"field": "hi"}}},
{"data": {"name": "ratioA"},
 "mark": {"type": "point", "filled": true, "size": 75, "opacity": 1, "color": "black", "clip": true},
 "encoding": {
  "x": {"field": "c", "type": "quantitative", "axis": {"orient": "top", "values": [0,10,20,30,40,50,60,70,80,90,100,110,120,130,140,150,160,170,180,190,200,210,220,230,240,250,260,270,280,290,300], "labels": false, "ticks": false, "domain": false, "title": null, "grid": true, "gridColor": "black", "gridOpacity": 1, "gridWidth": 1, "gridDash": {"condition": {"test": "datum.value % 50 === 0", "value": [10, 3000]}, "value": [5, 3000]}, "zindex": 1}},
  "y": {"field": "r", "type": "quantitative", "axis": {"orient": "right", "values": [0, 0.5, 1, 1.5, 2], "labels": false, "ticks": false, "domain": false, "title": null, "grid": true, "gridColor": "black", "gridOpacity": 1, "gridWidth": 1, "gridDash": {"condition": {"test": "datum.value % 1 === 0", "value": [10, 3000]}, "value": [5, 3000]}, "zindex": 1}}}}
]
}
]
},
{
"spacing": 0,
"resolve": {"scale": {"x": "independent", "y": "independent"}},
"vconcat": [
{
"width": 495, "height": 455,
"title": {"text": "CMS Preliminary, L = 19.3 fb⁻¹, √s = 8 TeV", "anchor": "start", "frame": "group", "fontSize": 19, "fontWeight": "normal", "offset": 4, "dx": 3, "color": "black"},
"resolve": {"axis": {"x": "independent", "y": "independent"}},
"layer": [
{"data": {"name": "ttB"}, "transform": [{"fold": ["a","b"], "as": ["e","xe"]}],
 "mark": {"type": "area", "opacity": 1, "clip": true},
 "encoding": {
  "x": {"field": "xe", "type": "quantitative", "scale": {"domain": [0,300], "nice": false, "zero": false},
        "axis": {"orient": "bottom", "values": [0,10,20,30,40,50,60,70,80,90,100,110,120,130,140,150,160,170,180,190,200,210,220,230,240,250,260,270,280,290,300], "labels": false, "ticks": false, "domain": false, "title": null, "grid": true, "gridColor": "black", "gridOpacity": 1, "gridWidth": 1, "gridDash": {"condition": {"test": "datum.value % 50 === 0", "value": [11, 3000]}, "value": [6, 3000]}, "zindex": 1}},
  "y": {"field": "v", "type": "quantitative", "stack": null, "scale": {"type": "log", "domain": [0.175, 5000], "clamp": true, "nice": false},
        "axis": {"orient": "left", "values": [0.2,0.3,0.4,0.5,0.6,0.7,0.8,0.9,1,2,3,4,5,6,7,8,9,10,20,30,40,50,60,70,80,90,100,200,300,400,500,600,700,800,900,1000,2000,3000,4000,5000], "labelExpr": "datum.value === 1 ? '1' : datum.value === 10 ? '10' : datum.value === 100 ? '10²' : datum.value === 1000 ? '10³' : ''", "labelFontSize": {"condition": {"test": "datum.value === 1 || datum.value === 10 || datum.value === 100 || datum.value === 1000", "value": 20}, "value": 1}, "labelPadding": 3, "labelOverlap": false, "labelFlush": false, "minExtent": 30, "maxExtent": 30, "ticks": false, "domain": false, "grid": true, "gridColor": "black", "gridOpacity": 1, "gridWidth": 1, "gridDash": {"condition": {"test": "abs(log(datum.value)/LN10 - round(log(datum.value)/LN10)) < 0.001", "value": [16, 3000]}, "value": [8, 3000]}, "title": "Events/10", "titleFontSize": 28, "titleAnchor": "end", "titlePadding": 35, "zindex": 1}},
  "y2": {"datum": 0.175},
  "order": [{"field": "xe", "type": "quantitative"}, {"field": "e", "type": "nominal", "sort": "descending"}],
  "color": {"datum": "Fast tt", "type": "nominal",
    "scale": {"domain": ["Fast tt", "Z → νν", "W+jets", "Single Top", "VV", "TTV", "QCD", "Data"], "range": ["#0c80f6", "#ffcc00", "#cc00ff", "#0000f5", "#006666", "#66ffff", "#00ff00", "black"]},
    "legend": {"orient": "none", "legendX": 340, "legendY": 19, "title": null, "symbolType": "M-1.19,-0.72L1.19,-0.72L1.19,0.72L-1.19,0.72Z", "symbolSize": 552, "symbolStrokeColor": "#222", "symbolStrokeWidth": 1, "symbolOpacity": 1, "labelFontSize": 20, "labelColor": "black", "labelOffset": 8, "rowPadding": 3, "labelLimit": 300,
      "encode": {"symbols": {"update": {"shape": {"signal": "datum.value === 'Data' ? 'M-1.19,0L1.19,0M-0.4,0A0.4,0.4,0,1,0,0.4,0A0.4,0.4,0,1,0,-0.4,0Z' : 'M-1.19,-0.72L1.19,-0.72L1.19,0.72L-1.19,0.72Z'"}, "stroke": {"signal": "datum.value === 'Data' ? 'black' : '#222'"}, "strokeWidth": {"signal": "datum.value === 'Data' ? 2 : 1"}}}}}}
 }},
{"data": {"name": "lower"}, "transform": [{"filter": "datum.p === 'W+jets'"}, {"fold": ["a","b"], "as": ["e","xe"]}],
 "mark": {"type": "area", "opacity": 1, "clip": true},
 "encoding": {
  "x": {"field": "xe", "type": "quantitative", "axis": {"orient": "top", "values": [0,10,20,30,40,50,60,70,80,90,100,110,120,130,140,150,160,170,180,190,200,210,220,230,240,250,260,270,280,290,300], "labels": false, "ticks": false, "domain": false, "title": null, "grid": true, "gridColor": "black", "gridOpacity": 1, "gridWidth": 1, "gridDash": {"condition": {"test": "datum.value % 50 === 0", "value": [10, 3000]}, "value": [5, 3000]}, "zindex": 1}},
  "y": {"field": "v", "type": "quantitative", "stack": null, "axis": {"orient": "right", "values": [0.2,0.3,0.4,0.5,0.6,0.7,0.8,0.9,1,2,3,4,5,6,7,8,9,10,20,30,40,50,60,70,80,90,100,200,300,400,500,600,700,800,900,1000,2000,3000,4000,5000], "labels": false, "ticks": false, "domain": false, "title": null, "grid": true, "gridColor": "black", "gridOpacity": 1, "gridWidth": 1, "gridDash": {"condition": {"test": "abs(log(datum.value)/LN10 - round(log(datum.value)/LN10)) < 0.001", "value": [11, 3000]}, "value": [6, 3000]}, "zindex": 1}},
  "y2": {"datum": 0.175},
  "order": [{"field": "xe", "type": "quantitative"}, {"field": "e", "type": "nominal", "sort": "descending"}],
  "color": {"datum": "W+jets", "type": "nominal"}
 }},
{"data": {"name": "lower"}, "transform": [{"filter": "datum.p === 'Single Top'"}, {"fold": ["a","b"], "as": ["e","xe"]}],
 "mark": {"type": "area", "opacity": 1, "clip": true},
 "encoding": {"x": {"field": "xe", "type": "quantitative", "axis": null}, "y": {"field": "v", "type": "quantitative", "stack": null, "axis": null}, "y2": {"datum": 0.175},
  "order": [{"field": "xe", "type": "quantitative"}, {"field": "e", "type": "nominal", "sort": "descending"}], "color": {"datum": "Single Top", "type": "nominal"}}},
{"data": {"name": "lower"}, "transform": [{"filter": "datum.p === 'VV'"}, {"fold": ["a","b"], "as": ["e","xe"]}],
 "mark": {"type": "area", "opacity": 1, "clip": true},
 "encoding": {"x": {"field": "xe", "type": "quantitative", "axis": null}, "y": {"field": "v", "type": "quantitative", "stack": null, "axis": null}, "y2": {"datum": 0.175},
  "order": [{"field": "xe", "type": "quantitative"}, {"field": "e", "type": "nominal", "sort": "descending"}], "color": {"datum": "VV", "type": "nominal"}}},
{"data": {"name": "lower"}, "transform": [{"filter": "datum.p === 'TTV'"}, {"fold": ["a","b"], "as": ["e","xe"]}],
 "mark": {"type": "area", "opacity": 1, "clip": true},
 "encoding": {"x": {"field": "xe", "type": "quantitative", "axis": null}, "y": {"field": "v", "type": "quantitative", "stack": null, "axis": null}, "y2": {"datum": 0.175},
  "order": [{"field": "xe", "type": "quantitative"}, {"field": "e", "type": "nominal", "sort": "descending"}], "color": {"datum": "TTV", "type": "nominal"}}},
{"data": {"name": "lower"}, "transform": [{"filter": "datum.p === 'QCD'"}, {"fold": ["a","b"], "as": ["e","xe"]}],
 "mark": {"type": "area", "opacity": 1, "clip": true},
 "encoding": {"x": {"field": "xe", "type": "quantitative", "axis": null}, "y": {"field": "v", "type": "quantitative", "stack": null, "axis": null}, "y2": {"datum": 0.175},
  "order": [{"field": "xe", "type": "quantitative"}, {"field": "e", "type": "nominal", "sort": "descending"}], "color": {"datum": "QCD", "type": "nominal"}}},
{"data": {"name": "lower"}, "transform": [{"fold": ["a","b"], "as": ["e","xe"]}],
 "mark": {"type": "line", "color": "#111", "strokeWidth": 1.2, "clip": true},
 "encoding": {"x": {"field": "xe", "type": "quantitative", "axis": null}, "y": {"field": "v", "type": "quantitative", "axis": null}, "detail": {"field": "p"},
  "order": [{"field": "xe", "type": "quantitative"}, {"field": "e", "type": "nominal", "sort": "descending"}]}},
{"data": {"name": "ttB"}, "transform": [{"fold": ["a","b"], "as": ["e","xe"]}],
 "mark": {"type": "line", "color": "#111", "strokeWidth": 1.2, "clip": true},
 "encoding": {"x": {"field": "xe", "type": "quantitative", "axis": null}, "y": {"field": "v", "type": "quantitative", "axis": null},
  "order": [{"field": "xe", "type": "quantitative"}, {"field": "e", "type": "nominal", "sort": "descending"}]}},
{"data": {"name": "bandB"}, "transform": [{"fold": ["a","b"], "as": ["e","xe"]}],
 "mark": {"type": "area", "opacity": 1, "strokeWidth": 0, "clip": true, "fill": {"gradient": "linear", "x1": 0, "y1": 0, "x2": 1, "y2": 1, "stops": [
{"offset":0,"color":"black"},{"offset":0.0025,"color":"transparent"},
{"offset":0.01,"color":"transparent"},{"offset":0.0125,"color":"black"},{"offset":0.015,"color":"transparent"},
{"offset":0.0225,"color":"transparent"},{"offset":0.025,"color":"black"},{"offset":0.0275,"color":"transparent"},
{"offset":0.035,"color":"transparent"},{"offset":0.0375,"color":"black"},{"offset":0.04,"color":"transparent"},
{"offset":0.0475,"color":"transparent"},{"offset":0.05,"color":"black"},{"offset":0.0525,"color":"transparent"},
{"offset":0.06,"color":"transparent"},{"offset":0.0625,"color":"black"},{"offset":0.065,"color":"transparent"},
{"offset":0.0725,"color":"transparent"},{"offset":0.075,"color":"black"},{"offset":0.0775,"color":"transparent"},
{"offset":0.085,"color":"transparent"},{"offset":0.0875,"color":"black"},{"offset":0.09,"color":"transparent"},
{"offset":0.0975,"color":"transparent"},{"offset":0.1,"color":"black"},{"offset":0.1025,"color":"transparent"},
{"offset":0.11,"color":"transparent"},{"offset":0.1125,"color":"black"},{"offset":0.115,"color":"transparent"},
{"offset":0.1225,"color":"transparent"},{"offset":0.125,"color":"black"},{"offset":0.1275,"color":"transparent"},
{"offset":0.135,"color":"transparent"},{"offset":0.1375,"color":"black"},{"offset":0.14,"color":"transparent"},
{"offset":0.1475,"color":"transparent"},{"offset":0.15,"color":"black"},{"offset":0.1525,"color":"transparent"},
{"offset":0.16,"color":"transparent"},{"offset":0.1625,"color":"black"},{"offset":0.165,"color":"transparent"},
{"offset":0.1725,"color":"transparent"},{"offset":0.175,"color":"black"},{"offset":0.1775,"color":"transparent"},
{"offset":0.185,"color":"transparent"},{"offset":0.1875,"color":"black"},{"offset":0.19,"color":"transparent"},
{"offset":0.1975,"color":"transparent"},{"offset":0.2,"color":"black"},{"offset":0.2025,"color":"transparent"},
{"offset":0.21,"color":"transparent"},{"offset":0.2125,"color":"black"},{"offset":0.215,"color":"transparent"},
{"offset":0.2225,"color":"transparent"},{"offset":0.225,"color":"black"},{"offset":0.2275,"color":"transparent"},
{"offset":0.235,"color":"transparent"},{"offset":0.2375,"color":"black"},{"offset":0.24,"color":"transparent"},
{"offset":0.2475,"color":"transparent"},{"offset":0.25,"color":"black"},{"offset":0.2525,"color":"transparent"},
{"offset":0.26,"color":"transparent"},{"offset":0.2625,"color":"black"},{"offset":0.265,"color":"transparent"},
{"offset":0.2725,"color":"transparent"},{"offset":0.275,"color":"black"},{"offset":0.2775,"color":"transparent"},
{"offset":0.285,"color":"transparent"},{"offset":0.2875,"color":"black"},{"offset":0.29,"color":"transparent"},
{"offset":0.2975,"color":"transparent"},{"offset":0.3,"color":"black"},{"offset":0.3025,"color":"transparent"},
{"offset":0.31,"color":"transparent"},{"offset":0.3125,"color":"black"},{"offset":0.315,"color":"transparent"},
{"offset":0.3225,"color":"transparent"},{"offset":0.325,"color":"black"},{"offset":0.3275,"color":"transparent"},
{"offset":0.335,"color":"transparent"},{"offset":0.3375,"color":"black"},{"offset":0.34,"color":"transparent"},
{"offset":0.3475,"color":"transparent"},{"offset":0.35,"color":"black"},{"offset":0.3525,"color":"transparent"},
{"offset":0.36,"color":"transparent"},{"offset":0.3625,"color":"black"},{"offset":0.365,"color":"transparent"},
{"offset":0.3725,"color":"transparent"},{"offset":0.375,"color":"black"},{"offset":0.3775,"color":"transparent"},
{"offset":0.385,"color":"transparent"},{"offset":0.3875,"color":"black"},{"offset":0.39,"color":"transparent"},
{"offset":0.3975,"color":"transparent"},{"offset":0.4,"color":"black"},{"offset":0.4025,"color":"transparent"},
{"offset":0.41,"color":"transparent"},{"offset":0.4125,"color":"black"},{"offset":0.415,"color":"transparent"},
{"offset":0.4225,"color":"transparent"},{"offset":0.425,"color":"black"},{"offset":0.4275,"color":"transparent"},
{"offset":0.435,"color":"transparent"},{"offset":0.4375,"color":"black"},{"offset":0.44,"color":"transparent"},
{"offset":0.4475,"color":"transparent"},{"offset":0.45,"color":"black"},{"offset":0.4525,"color":"transparent"},
{"offset":0.46,"color":"transparent"},{"offset":0.4625,"color":"black"},{"offset":0.465,"color":"transparent"},
{"offset":0.4725,"color":"transparent"},{"offset":0.475,"color":"black"},{"offset":0.4775,"color":"transparent"},
{"offset":0.485,"color":"transparent"},{"offset":0.4875,"color":"black"},{"offset":0.49,"color":"transparent"},
{"offset":0.4975,"color":"transparent"},{"offset":0.5,"color":"black"},{"offset":0.5025,"color":"transparent"},
{"offset":0.51,"color":"transparent"},{"offset":0.5125,"color":"black"},{"offset":0.515,"color":"transparent"},
{"offset":0.5225,"color":"transparent"},{"offset":0.525,"color":"black"},{"offset":0.5275,"color":"transparent"},
{"offset":0.535,"color":"transparent"},{"offset":0.5375,"color":"black"},{"offset":0.54,"color":"transparent"},
{"offset":0.5475,"color":"transparent"},{"offset":0.55,"color":"black"},{"offset":0.5525,"color":"transparent"},
{"offset":0.56,"color":"transparent"},{"offset":0.5625,"color":"black"},{"offset":0.565,"color":"transparent"},
{"offset":0.5725,"color":"transparent"},{"offset":0.575,"color":"black"},{"offset":0.5775,"color":"transparent"},
{"offset":0.585,"color":"transparent"},{"offset":0.5875,"color":"black"},{"offset":0.59,"color":"transparent"},
{"offset":0.5975,"color":"transparent"},{"offset":0.6,"color":"black"},{"offset":0.6025,"color":"transparent"},
{"offset":0.61,"color":"transparent"},{"offset":0.6125,"color":"black"},{"offset":0.615,"color":"transparent"},
{"offset":0.6225,"color":"transparent"},{"offset":0.625,"color":"black"},{"offset":0.6275,"color":"transparent"},
{"offset":0.635,"color":"transparent"},{"offset":0.6375,"color":"black"},{"offset":0.64,"color":"transparent"},
{"offset":0.6475,"color":"transparent"},{"offset":0.65,"color":"black"},{"offset":0.6525,"color":"transparent"},
{"offset":0.66,"color":"transparent"},{"offset":0.6625,"color":"black"},{"offset":0.665,"color":"transparent"},
{"offset":0.6725,"color":"transparent"},{"offset":0.675,"color":"black"},{"offset":0.6775,"color":"transparent"},
{"offset":0.685,"color":"transparent"},{"offset":0.6875,"color":"black"},{"offset":0.69,"color":"transparent"},
{"offset":0.6975,"color":"transparent"},{"offset":0.7,"color":"black"},{"offset":0.7025,"color":"transparent"},
{"offset":0.71,"color":"transparent"},{"offset":0.7125,"color":"black"},{"offset":0.715,"color":"transparent"},
{"offset":0.7225,"color":"transparent"},{"offset":0.725,"color":"black"},{"offset":0.7275,"color":"transparent"},
{"offset":0.735,"color":"transparent"},{"offset":0.7375,"color":"black"},{"offset":0.74,"color":"transparent"},
{"offset":0.7475,"color":"transparent"},{"offset":0.75,"color":"black"},{"offset":0.7525,"color":"transparent"},
{"offset":0.76,"color":"transparent"},{"offset":0.7625,"color":"black"},{"offset":0.765,"color":"transparent"},
{"offset":0.7725,"color":"transparent"},{"offset":0.775,"color":"black"},{"offset":0.7775,"color":"transparent"},
{"offset":0.785,"color":"transparent"},{"offset":0.7875,"color":"black"},{"offset":0.79,"color":"transparent"},
{"offset":0.7975,"color":"transparent"},{"offset":0.8,"color":"black"},{"offset":0.8025,"color":"transparent"},
{"offset":0.81,"color":"transparent"},{"offset":0.8125,"color":"black"},{"offset":0.815,"color":"transparent"},
{"offset":0.8225,"color":"transparent"},{"offset":0.825,"color":"black"},{"offset":0.8275,"color":"transparent"},
{"offset":0.835,"color":"transparent"},{"offset":0.8375,"color":"black"},{"offset":0.84,"color":"transparent"},
{"offset":0.8475,"color":"transparent"},{"offset":0.85,"color":"black"},{"offset":0.8525,"color":"transparent"},
{"offset":0.86,"color":"transparent"},{"offset":0.8625,"color":"black"},{"offset":0.865,"color":"transparent"},
{"offset":0.8725,"color":"transparent"},{"offset":0.875,"color":"black"},{"offset":0.8775,"color":"transparent"},
{"offset":0.885,"color":"transparent"},{"offset":0.8875,"color":"black"},{"offset":0.89,"color":"transparent"},
{"offset":0.8975,"color":"transparent"},{"offset":0.9,"color":"black"},{"offset":0.9025,"color":"transparent"},
{"offset":0.91,"color":"transparent"},{"offset":0.9125,"color":"black"},{"offset":0.915,"color":"transparent"},
{"offset":0.9225,"color":"transparent"},{"offset":0.925,"color":"black"},{"offset":0.9275,"color":"transparent"},
{"offset":0.935,"color":"transparent"},{"offset":0.9375,"color":"black"},{"offset":0.94,"color":"transparent"},
{"offset":0.9475,"color":"transparent"},{"offset":0.95,"color":"black"},{"offset":0.9525,"color":"transparent"},
{"offset":0.96,"color":"transparent"},{"offset":0.9625,"color":"black"},{"offset":0.965,"color":"transparent"},
{"offset":0.9725,"color":"transparent"},{"offset":0.975,"color":"black"},{"offset":0.9775,"color":"transparent"},
{"offset":0.985,"color":"transparent"},{"offset":0.9875,"color":"black"},{"offset":0.99,"color":"transparent"},
{"offset":0.9975,"color":"transparent"},{"offset":1,"color":"black"}
]}},
 "encoding": {"x": {"field": "xe", "type": "quantitative", "axis": null}, "y": {"field": "lo", "type": "quantitative", "stack": null, "axis": null}, "y2": {"field": "hi"},
  "order": [{"field": "xe", "type": "quantitative"}, {"field": "e", "type": "nominal", "sort": "descending"}]}},
{"data": {"name": "obs"},
 "mark": {"type": "rule", "color": "black", "strokeWidth": 1.8, "clip": true},
 "encoding": {"x": {"field": "c", "type": "quantitative", "axis": null}, "y": {"field": "lo", "type": "quantitative", "axis": null}, "y2": {"field": "hi"}}},
{"data": {"name": "obs"},
 "mark": {"type": "point", "filled": true, "size": 75, "opacity": 1, "clip": true},
 "encoding": {"x": {"field": "c", "type": "quantitative", "axis": null}, "y": {"field": "n", "type": "quantitative", "axis": null}, "color": {"datum": "Data", "type": "nominal"}}}
]
},
{
"width": 495, "height": 128,
"resolve": {"axis": {"x": "independent", "y": "independent"}},
"layer": [
{"mark": {"type": "rule", "color": "#555", "strokeWidth": 1.5},
 "encoding": {"y": {"datum": 1, "type": "quantitative", "scale": {"domain": [0, 2.2], "nice": false, "zero": false}, "axis": null}}},
{"data": {"name": "ratioB"},
 "mark": {"type": "rule", "color": "#555", "strokeWidth": 1.5, "clip": true},
 "encoding": {
  "x": {"field": "c", "type": "quantitative", "scale": {"domain": [0,300], "nice": false, "zero": false},
        "axis": {"orient": "bottom", "values": [0,10,20,30,40,50,60,70,80,90,100,110,120,130,140,150,160,170,180,190,200,210,220,230,240,250,260,270,280,290,300], "labelExpr": "datum.value % 50 === 0 ? datum.label : ''", "labelFontSize": 21, "labelPadding": 6, "labelOverlap": false, "labelFlush": false, "ticks": false, "domain": false, "grid": true, "gridColor": "black", "gridOpacity": 1, "gridWidth": 1, "gridDash": {"condition": {"test": "datum.value % 50 === 0", "value": [12, 3000]}, "value": [6, 3000]}, "title": "Eₜᵐⁱˢˢ significance S", "titleFontSize": 31, "titleAnchor": "end", "titlePadding": 14, "zindex": 1}},
  "y": {"field": "lo", "type": "quantitative",
        "axis": {"orient": "left", "values": [0, 0.5, 1, 1.5, 2], "labelExpr": "datum.value % 1 === 0 ? toString(datum.value) : ''", "labelFontSize": 20, "labelPadding": 3, "labelOverlap": false, "labelFlush": false, "minExtent": 30, "maxExtent": 30, "ticks": false, "domain": false, "grid": true, "gridColor": "black", "gridOpacity": 1, "gridWidth": 1, "gridDash": {"condition": {"test": "datum.value % 1 === 0", "value": [12, 3000]}, "value": [6, 3000]}, "title": "Data/MC", "titleFontSize": 31, "titlePadding": 30, "zindex": 1}},
  "y2": {"field": "hi"}}},
{"data": {"name": "ratioB"},
 "mark": {"type": "point", "filled": true, "size": 75, "opacity": 1, "color": "black", "clip": true},
 "encoding": {
  "x": {"field": "c", "type": "quantitative", "axis": {"orient": "top", "values": [0,10,20,30,40,50,60,70,80,90,100,110,120,130,140,150,160,170,180,190,200,210,220,230,240,250,260,270,280,290,300], "labels": false, "ticks": false, "domain": false, "title": null, "grid": true, "gridColor": "black", "gridOpacity": 1, "gridWidth": 1, "gridDash": {"condition": {"test": "datum.value % 50 === 0", "value": [10, 3000]}, "value": [5, 3000]}, "zindex": 1}},
  "y": {"field": "r", "type": "quantitative", "axis": {"orient": "right", "values": [0, 0.5, 1, 1.5, 2], "labels": false, "ticks": false, "domain": false, "title": null, "grid": true, "gridColor": "black", "gridOpacity": 1, "gridWidth": 1, "gridDash": {"condition": {"test": "datum.value % 1 === 0", "value": [10, 3000]}, "value": [5, 3000]}, "zindex": 1}}}}
]
}
]
}
]
}
